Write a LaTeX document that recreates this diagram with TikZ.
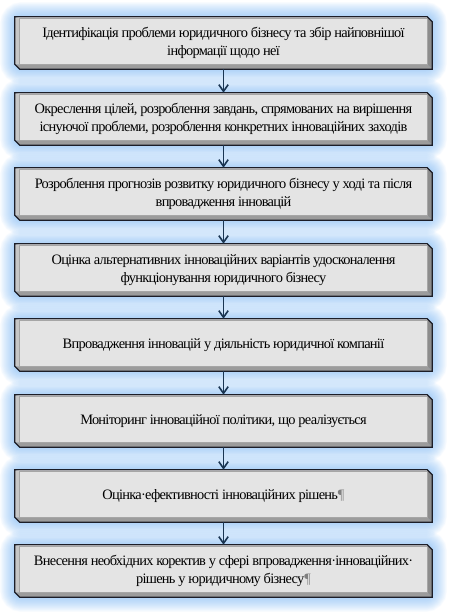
\documentclass[tikz,border=0pt]{standalone}
\usepackage{fontspec}
\setmainfont{Liberation Serif}[LetterSpace=-5]
\usepackage{tikz}
\usepackage{xcolor}
\usetikzlibrary{backgrounds,arrows.meta}

\definecolor{boxline}{HTML}{1C1E28}
\definecolor{face}{HTML}{E4E4E4}
\definecolor{bevl}{HTML}{C6C6C6}
\definecolor{bevb}{HTML}{9C9C9C}
\definecolor{bevr}{HTML}{8C8C8C}
\definecolor{bevt}{HTML}{F6F6F6}
\definecolor{glowc}{RGB}{112,176,242}
\definecolor{arrowc}{HTML}{1A3552}

\begin{document}
\begin{tikzpicture}[x=0.75pt,y=-0.75pt,
  every node/.style={font=\fontsize{10.8}{13.5}\selectfont},
  stage/.style={minimum width=312.75pt,minimum height=39pt,inner sep=0pt,align=center},
  flow/.style={draw=arrowc,line width=1.2pt,-{Straight Barb[length=5pt,width=7pt]}}]
\useasboundingbox (0,0) rectangle (449,612);
\node[stage] (s1) at (223.5,43) {Ідентифікація проблеми юридичного бізнесу та збір найповнішої\\ інформації щодо неї};
\node[stage] (s2) at (223.5,119) {Окреслення цілей, розроблення завдань, спрямованих на вирішення\\ існуючої проблеми, розроблення конкретних інноваційних заходів};
\node[stage] (s3) at (223.5,194) {Розроблення прогнозів розвитку юридичного бізнесу у ході та після\\ впровадження інновацій};
\node[stage] (s4) at (223.5,270) {Оцінка альтернативних інноваційних варіантів удосконалення\\ функціонування юридичного бізнесу};
\node[stage] (s5) at (223.5,345) {Впровадження інновацій у діяльність юридичної компанії};
\node[stage] (s6) at (223.5,421) {Моніторинг інноваційної політики, що реалізується};
\node[stage] (s7) at (223.5,496) {Оцінка·ефективності інноваційних рішень{\color{gray}¶}};
\node[stage] (s8) at (223.5,571) {Внесення необхідних коректив у сфері впровадження·інноваційних·\\ рішень у юридичному бізнесу{\color{gray}¶}};
\begin{scope}[on background layer]
\foreach \i in {1,...,8}{
  \foreach \w in {22,21,...,1}
    \draw[glowc,line width=\w pt,opacity=0.035,rounded corners=5pt] (s\i.north west) rectangle (s\i.south east);
  \fill[face] ([shift={(5,2)}]s\i.north west) rectangle ([shift={(-5,-5)}]s\i.south east);
  \fill[bevt] (s\i.north west) -- ([shift={(-5,0)}]s\i.north east) -- ([shift={(-5,2)}]s\i.north east) -- ([shift={(5,2)}]s\i.north west) -- cycle;
  \fill[bevl] (s\i.north west) -- ([shift={(5,2)}]s\i.north west) -- ([shift={(5,-5)}]s\i.south west) -- ([shift={(0,-5)}]s\i.south west) -- cycle;
  \fill[bevb] ([shift={(0,-5)}]s\i.south west) -- ([shift={(5,-5)}]s\i.south west) -- ([shift={(-5,-5)}]s\i.south east) -- (s\i.south east) -- ([shift={(5,0)}]s\i.south west) -- cycle;
  \fill[bevr] ([shift={(-5,0)}]s\i.north east) -- ([shift={(0,5)}]s\i.north east) -- (s\i.south east) -- ([shift={(-5,-5)}]s\i.south east) -- ([shift={(-5,2)}]s\i.north east) -- cycle;
  \draw[gray!70,line width=0.4pt] ([shift={(5,2)}]s\i.north west) rectangle ([shift={(-5,-5)}]s\i.south east);
  \draw[boxline,line width=0.9pt] (s\i.north west) -- ([shift={(-5,0)}]s\i.north east) -- ([shift={(0,5)}]s\i.north east) -- (s\i.south east) -- ([shift={(5,0)}]s\i.south west) -- ([shift={(0,-5)}]s\i.south west) -- cycle;
}
\end{scope}
\draw[flow] (s1) -- (s2);
\draw[flow] (s2) -- (s3);
\draw[flow] (s3) -- (s4);
\draw[flow] (s4) -- (s5);
\draw[flow] (s5) -- (s6);
\draw[flow] (s6) -- (s7);
\draw[flow] (s7) -- (s8);
\end{tikzpicture}
\end{document}
